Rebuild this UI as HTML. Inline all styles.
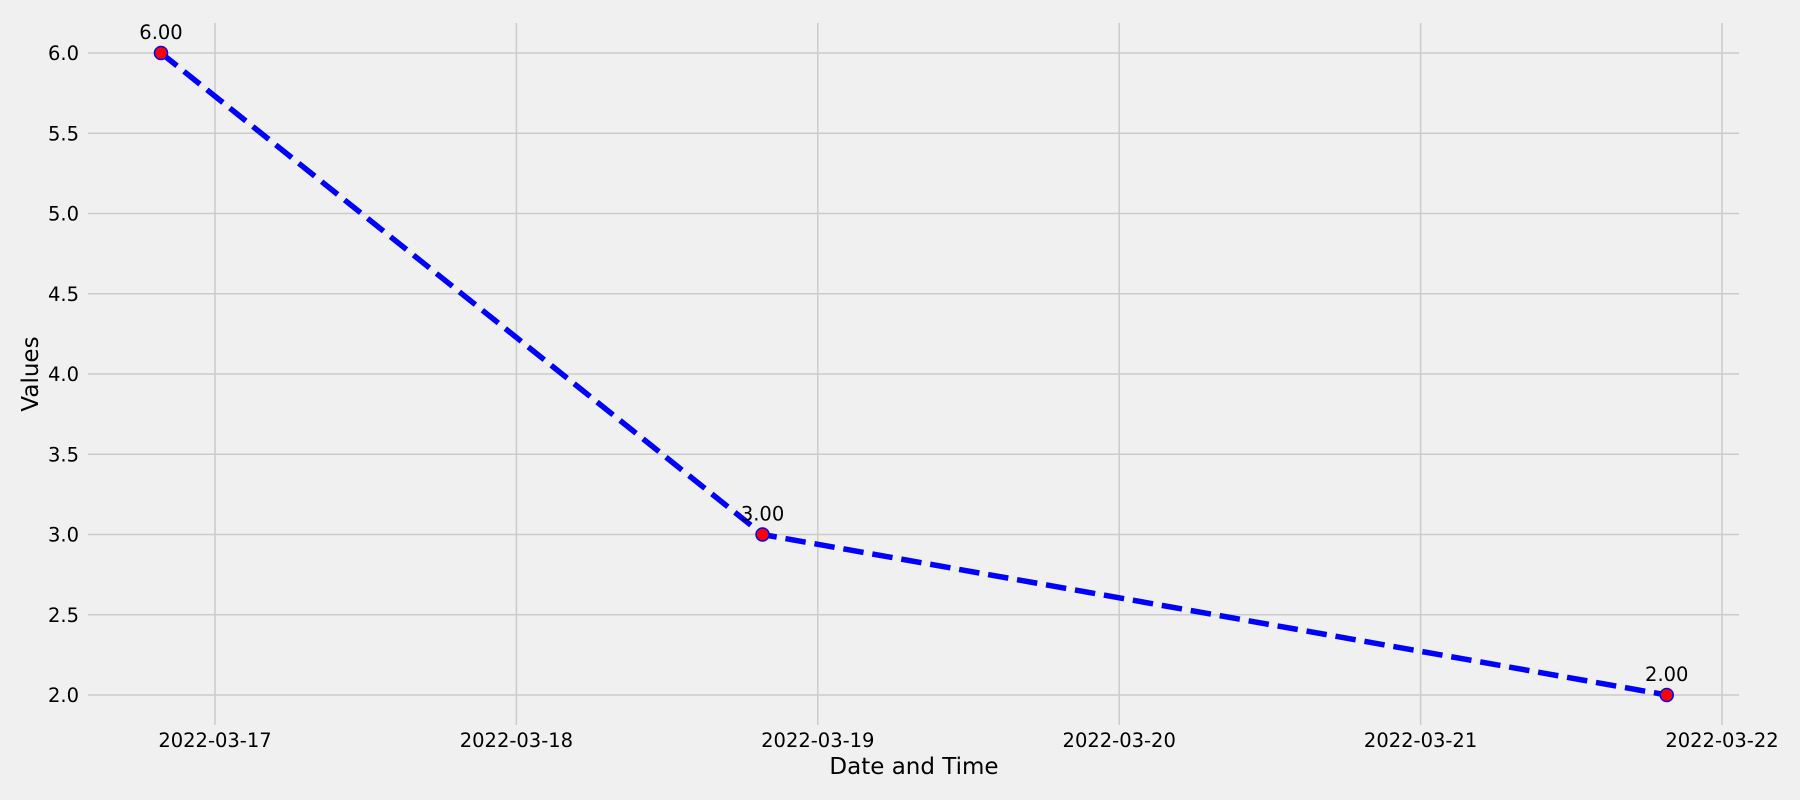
<!DOCTYPE html>
<html><head><meta charset="utf-8"><style>
body{margin:0;background:#f0f0f0;}
svg{display:block;font-family:"DejaVu Sans","Liberation Sans",sans-serif;}
</style></head><body>
<svg id="chart" width="1800" height="800" viewBox="0 0 1800 800">
<rect width="1800" height="800" fill="#f0f0f0"/>
<g id="grid"></g><g id="ticks"></g><g id="series"></g>
<text x="914" y="774" font-size="23" text-anchor="middle" fill="#000">Date and Time</text>
<text x="0" y="0" font-size="23" text-anchor="middle" fill="#000" transform="translate(38,374) rotate(-90)">Values</text>
</svg>
<script>
const dates = ["2022-03-16T19:42","2022-03-18T19:36","2022-03-21T19:36"];
const values = [6, 3, 2];
const labels = ["6.00","3.00","2.00"];
const xTicks = ["2022-03-17","2022-03-18","2022-03-19","2022-03-20","2022-03-21","2022-03-22"];
const yTicks = [2.0,2.5,3.0,3.5,4.0,4.5,5.0,5.5,6.0];
const NS="http://www.w3.org/2000/svg";
const t0=Date.parse("2022-03-17T00:00:00Z");
function tx(s){const full=s.length>10?s+":00Z":s+"T00:00:00Z";const d=(Date.parse(full)-t0)/86400000;return 215+d*301.4;}
function ty(v){return 695-(v-2)*160.5;}
function el(tag,attrs,parent){const e=document.createElementNS(NS,tag);for(const k in attrs)e.setAttribute(k,attrs[k]);parent.appendChild(e);return e;}
const g=document.getElementById('grid'),tk=document.getElementById('ticks'),se=document.getElementById('series');
yTicks.forEach(v=>{
 const l=el('line',{x1:88,x2:1739,y1:ty(v),y2:ty(v),stroke:'#cbcbcb','stroke-width':1.5},g);
 
 
 const t=el('text',{x:79,y:ty(v)+7,'font-size':19.5,'text-anchor':'end',fill:'#000'},tk);
 t.textContent=v.toFixed(1);
 
 
});
xTicks.forEach(s=>{
 const x=tx(s);
 const l=el('line',{x1:x,x2:x,y1:23,y2:725,stroke:'#cbcbcb','stroke-width':1.5},g);
 
 
 const t=el('text',{x:x,y:747,'font-size':19.5,'text-anchor':'middle',fill:'#000'},tk);
 t.textContent=s;
 
 
});
const pts=dates.map((d,i)=>tx(d)+','+ty(values[i])).join(' ');
const pl=el('polyline',{points:pts,fill:'none',stroke:'#0000ff','stroke-width':5.5,'stroke-dasharray':'20.5,8.9'},se);


dates.forEach((d,i)=>{
 const c=el('circle',{cx:tx(d),cy:ty(values[i]),r:6.5,fill:'#ff0000',stroke:'#0000ff','stroke-width':1.5},se);
 
 
 const t=el('text',{x:tx(d),y:ty(values[i])-14,'font-size':19.5,'text-anchor':'middle',fill:'#000'},se);
 t.textContent=labels[i];
 
 
});
</script>
</body></html>
